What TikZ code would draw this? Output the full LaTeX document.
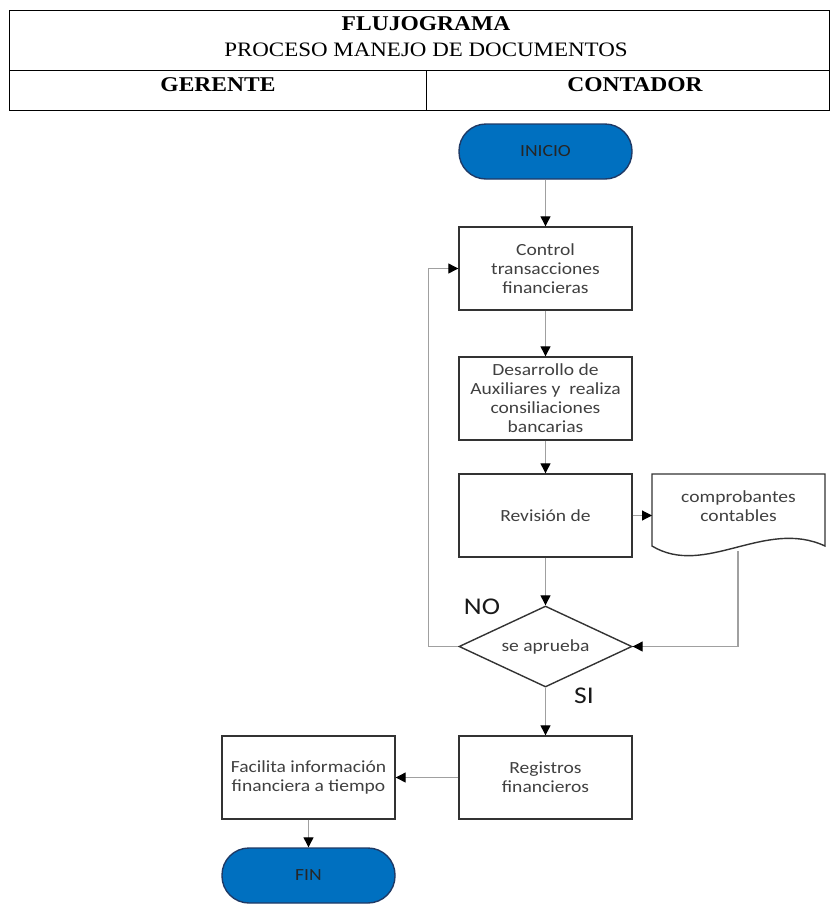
\documentclass[tikz,border=0pt]{standalone}
\usepackage{fontspec}
\setmainfont[FakeStretch=1.12]{Liberation Serif}
\newfontfamily\carl[FakeStretch=1.15]{Carlito}
\usetikzlibrary{arrows.meta,shapes.geometric}
\definecolor{termblue}{HTML}{0070C0}
\definecolor{termedge}{HTML}{1F3A66}
\definecolor{boxtext}{HTML}{404040}
\definecolor{linegray}{HTML}{A0A0A0}
\begin{document}
\begin{tikzpicture}[x=1pt,y=-1pt,
  box/.style={draw=black!80,line width=1.4pt,minimum width=173pt,minimum height=83pt,inner sep=2pt,
    align=center,font=\carl\fontsize{17}{19}\selectfont,text=boxtext},
  term/.style={draw=termedge,line width=1.4pt,fill=termblue,minimum width=173pt,minimum height=55pt,
    rounded corners=27pt,font=\carl\fontsize{17}{19}\selectfont,text=black!85},
  conn/.style={draw=linegray,line width=1.2pt,-{Triangle[color=black,length=10pt,width=10pt]}},
  cell/.style={draw=black,line width=0.8pt}]
\useasboundingbox (0,0) rectangle (831,906);
% header table
\draw[cell] (9,10) rectangle (829,110);
\draw[cell] (9,70) -- (829,70);
\draw[cell] (426,70) -- (426,110);
\node[font=\fontsize{21}{24}\selectfont\bfseries] (title) at (426,24) {FLUJOGRAMA};
\node[font=\fontsize{20.5}{24}\selectfont] (sub) at (426,50) {PROCESO MANEJO DE DOCUMENTOS};
\node[font=\fontsize{21}{24}\selectfont\bfseries] (ger) at (218,85) {GERENTE};
\node[font=\fontsize{21}{24}\selectfont\bfseries] (con) at (635,85) {CONTADOR};
% nodes
\node[term] (ini) at (545.5,151.5) {INICIO};
\node[box] (ctrl) at (545.5,268.5) {Control\\transacciones\\financieras};
\node[box] (des) at (545.5,398.5) {Desarrollo de\\Auxiliares y\ \ realiza\\consiliaciones\\bancarias};
\node[box] (rev) at (545.5,515.5) {Revisión de};
% document
\draw[draw=black!80,line width=1.4pt] (652,474) -- (825,474) -- (825,546)
   .. controls (765,518) and (705,578) .. (652,546) -- cycle;
\node[font=\carl\fontsize{17}{19}\selectfont,text=boxtext,align=center] (doc) at (738.5,506) {comprobantes\\contables};
\coordinate (docw) at (652,515.5);
\coordinate (docb) at (738,551);
\node[draw=black!80,line width=1.4pt,diamond,aspect=2.14,minimum width=173pt,minimum height=81pt,inner sep=0pt,
   font=\carl\fontsize{17}{19}\selectfont,text=boxtext] (dia) at (545.5,646.5) {se aprueba};
\node[box] (reg) at (545.5,777.5) {Registros\\financieros};
\node[box] (fac) at (308.5,777.5) {Facilita información\\financiera a tiempo};
\node[term] (fin) at (308.5,875.5) {FIN};
\node[font=\carl\fontsize{24}{26}\selectfont,text=black!90] (no) at (482,607) {NO};
\node[font=\carl\fontsize{24}{26}\selectfont,text=black!90] (si) at (584,696) {SI};
% connectors
\draw[conn] (ini) -- (ctrl);
\draw[conn] (ctrl) -- (des);
\draw[conn] (des) -- (rev);
\draw[conn] (rev) -- (dia);
\draw[conn] (rev.east) -- (docw);
\draw[conn] (docb) |- (dia.east);
\draw[conn] (dia.west) -- ++(-30,0) |- (ctrl.west);
\draw[conn] (dia) -- (reg);
\draw[conn] (reg) -- (fac);
\draw[conn] (fac) -- (fin);
\end{tikzpicture}
\end{document}
